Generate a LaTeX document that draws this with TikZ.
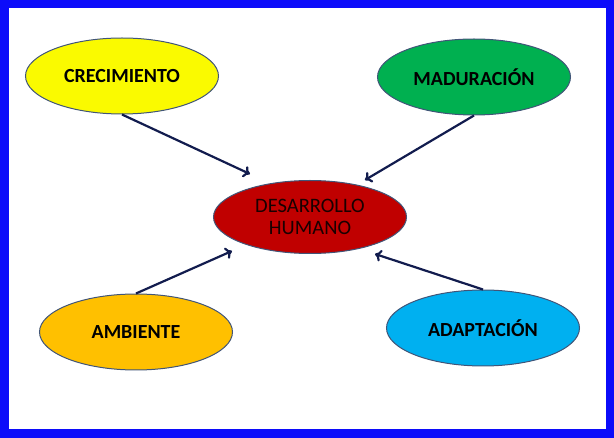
\documentclass[tikz,border=0pt]{standalone}
\usepackage{fontspec}
\setmainfont{Carlito}
\usepackage{tikz}
\usetikzlibrary{shapes,arrows,arrows.meta}
\usetikzlibrary{shapes.geometric}
\usetikzlibrary{positioning}
\definecolor{marco}{RGB}{12,12,250}
\definecolor{borde}{RGB}{65,85,120}
\definecolor{flecha}{RGB}{18,28,78}
\definecolor{amarillo}{RGB}{250,250,0}
\definecolor{verde}{RGB}{0,176,80}
\definecolor{rojo}{RGB}{192,0,0}
\definecolor{naranja}{RGB}{255,192,0}
\definecolor{celeste}{RGB}{0,176,240}
\tikzstyle{elipse} = [ellipse, draw=borde, line width=1pt, inner sep=0pt,
minimum width=193pt, minimum height=76pt, align=center,
font=\fontsize{20}{22}\selectfont\bfseries]
\tikzstyle{line} = [draw=flecha, line width=2.2pt, -{To[length=6.5pt,width=12pt]}]

\begin{document}
\begin{tikzpicture}[x=1pt, y=-1pt]
	
	\useasboundingbox (0,0) rectangle (614,438);
	\draw [marco, line width=8.5pt] (4.25,4.25) rectangle (609.75,433.75);
	
	\node [elipse, fill=amarillo] (crec) at (122,76) {CRECIMIENTO};
	\node [elipse, fill=verde] (madu) at (474,77) {MADURACIÓN};
	\node [elipse, fill=rojo, minimum height=73pt, text=black!90!red, font=\fontsize{20.5}{22}\selectfont] (desa) at (310,217) {DESARROLLO\\HUMANO};
	\node [elipse, fill=naranja] (ambi) at (136,332) {AMBIENTE};
	\node [elipse, fill=celeste] (adap) at (483,328) {ADAPTACIÓN};
	
	% Arrow tips
	\coordinate (p1) at (250,174);
	\coordinate (p2) at (365,180);
	\coordinate (p3) at (232,251);
	\coordinate (p4) at (375,254);
	
	% Draw edges
	\path [line] (crec.south) -- (p1);
	\path [line] (madu.south) -- (p2);
	\path [line] (ambi.north) -- (p3);
	\path [line] (adap.north) -- (p4);
	
\end{tikzpicture}
\end{document}
